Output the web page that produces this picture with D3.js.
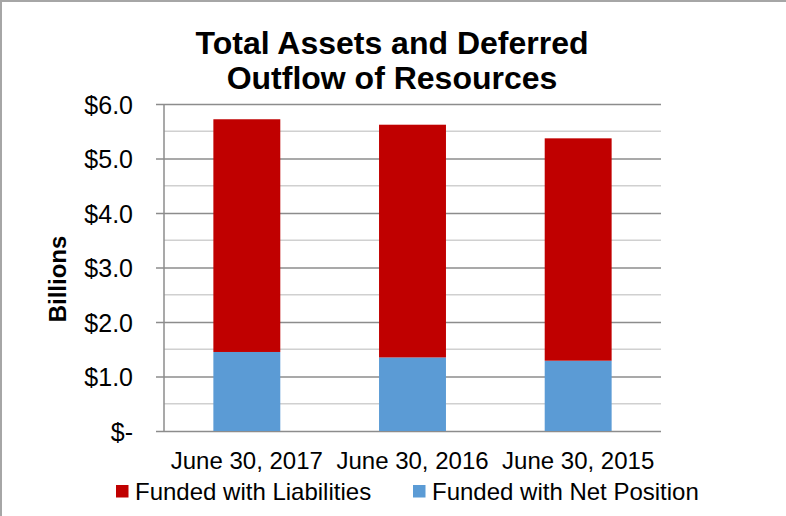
<!DOCTYPE html>
<html>
<head>
<meta charset="utf-8">
<script src="https://cdn.jsdelivr.net/npm/d3@7"></script>
<style>
  body { margin: 0; background: #fff; }
  svg text { font-family: "Liberation Sans", Arial, sans-serif; fill: #000; }
</style>
</head>
<body>
<svg width="786" height="516" viewBox="0 0 786 516"></svg>
<script>
const categories = ["June 30, 2017", "June 30, 2016", "June 30, 2015"];
const netPosition = [1.45, 1.35, 1.29];
const liabilities = [4.27, 4.27, 4.08];
const yTicks = [0, 1, 2, 3, 4, 5, 6];
const yMinorTicks = [0.5, 1.5, 2.5, 3.5, 4.5, 5.5];
const seriesNames = ["Funded with Net Position", "Funded with Liabilities"];
const colors = { "Funded with Net Position": "#5b9bd5", "Funded with Liabilities": "#c00000" };

let svg = d3.select("svg");
let plot = { left: 164, right: 661, top: 104, bottom: 431 };

// outer border (top and left only visible)
svg.append("line").attr("x1", 0).attr("x2", 786).attr("y1", 1).attr("y2", 1)
  .attr("stroke", "#a6a6a6").attr("stroke-width", 2);
svg.append("line").attr("x1", 1).attr("x2", 1).attr("y1", 0).attr("y2", 516)
  .attr("stroke", "#a6a6a6").attr("stroke-width", 2);

let xScale = d3.scaleBand().domain(categories)
  .range([plot.left, plot.right]).paddingInner(0.596).paddingOuter(0.298);
let yScale = d3.scaleLinear().domain([0, 6]).range([plot.bottom, plot.top]);

// minor grid
svg.append("g").selectAll("line").data(yMinorTicks).enter().append("line")
  .attr("x1", plot.left).attr("x2", plot.right)
  .attr("y1", (d) => yScale(d)).attr("y2", (d) => yScale(d))
  .attr("stroke", "#d0d0d0").attr("stroke-width", 1.5);

// major grid + y axis labels
let yAxis = svg.append("g")
  .attr("transform", `translate(${plot.left},0)`)
  .call(d3.axisLeft(yScale).tickValues(yTicks)
    .tickSize(-(plot.right - plot.left)).tickSizeOuter(0)
    .tickFormat((d) => d === 0 ? "$-" : "$" + d.toFixed(1)));
yAxis.select(".domain").remove();
yAxis.selectAll(".tick line").attr("x1", -8).attr("stroke", "#8c8c8c").attr("stroke-width", 1.5);
yAxis.selectAll(".tick text").attr("x", -31).attr("dy", "0.36em")
  .style("font-size", "25px").attr("fill", "#000");

// y axis line
svg.append("line").attr("x1", plot.left).attr("x2", plot.left)
  .attr("y1", plot.top).attr("y2", plot.bottom)
  .attr("stroke", "#8c8c8c").attr("stroke-width", 1.5);

// stacked bars
let rows = categories.map((c, i) => ({
  cat: c,
  "Funded with Net Position": netPosition[i],
  "Funded with Liabilities": liabilities[i],
}));
let stacked = d3.stack().keys(seriesNames)(rows);

svg.append("g").selectAll("g").data(stacked).enter().append("g")
  .attr("fill", (s) => colors[s.key])
  .selectAll("rect").data((s) => s).enter().append("rect")
  .attr("x", (d) => xScale(d.data.cat))
  .attr("width", xScale.bandwidth())
  .attr("y", (d) => yScale(d[1]))
  .attr("height", (d) => yScale(d[0]) - yScale(d[1]));

// x axis
let xAxis = svg.append("g")
  .attr("transform", `translate(0,${plot.bottom})`)
  .call(d3.axisBottom(xScale).tickSize(0).tickSizeOuter(0));
xAxis.select(".domain").remove();
xAxis.selectAll(".tick text").attr("y", 38).attr("dy", 0)
  .style("font-size", "24px").attr("fill", "#000");

// title
let title = svg.append("text").attr("x", 392).attr("text-anchor", "middle")
  .style("font-size", "32px").style("font-weight", "bold");
title.append("tspan").attr("x", 392).attr("y", 54).text("Total Assets and Deferred");
title.append("tspan").attr("x", 392).attr("y", 89).text("Outflow of Resources");

// y axis title
svg.append("text")
  .attr("transform", "translate(66,279) rotate(-90)")
  .attr("text-anchor", "middle")
  .style("font-size", "24px").style("font-weight", "bold")
  .text("Billions");

// legend
const legendItems = [
  { name: "Funded with Liabilities", x: 116 },
  { name: "Funded with Net Position", x: 413 },
];
let legend = svg.append("g").selectAll("g").data(legendItems).enter().append("g")
  .attr("transform", (d) => `translate(${d.x},485)`);
legend.append("rect").attr("width", 12.5).attr("height", 12.5)
  .attr("fill", (d) => colors[d.name]);
legend.append("text").attr("x", 19).attr("y", 14.5)
  .style("font-size", "24px").text((d) => d.name);
</script>
</body>
</html>
